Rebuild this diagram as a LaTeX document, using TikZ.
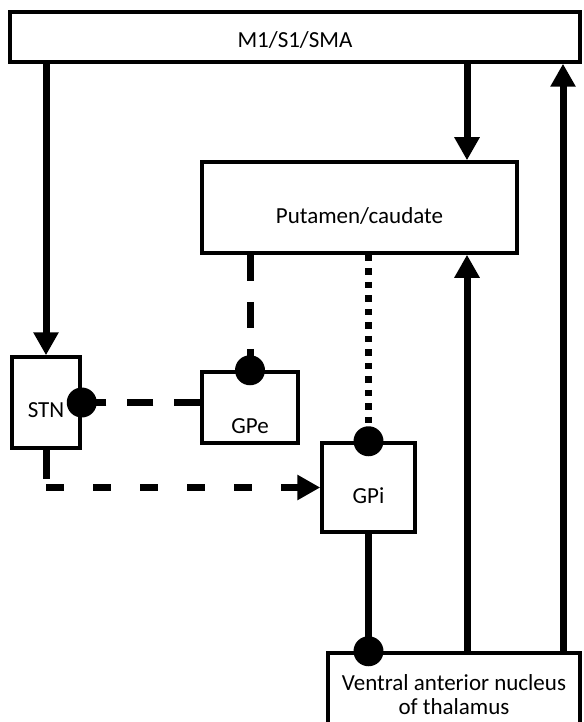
\documentclass[tikz,border=0pt]{standalone}
\usepackage{fontspec}
\setmainfont{Carlito}
\usetikzlibrary{arrows.meta,positioning}

\begin{document}
\begin{tikzpicture}[x=1pt, y=-1pt,
    box/.style={rectangle, draw, line width=3.5pt, inner sep=0pt, font=\fontsize{23}{24}\selectfont},
    arrow/.style={-{Triangle[length=23pt, width=24pt]}, line width=7pt},
    link/.style={line width=7pt},
    dashlink/.style={line width=7pt, dash pattern=on 26pt off 21pt},
    dasharrow/.style={arrow, dash pattern=on 18pt off 29pt},
    dotlink/.style={line width=6.5pt, dash pattern=on 6.5pt off 7pt},
    knob/.style={fill=black}
]
\useasboundingbox (0,0) rectangle (583,722);

% -- boxes --
\node[box, minimum width=570pt, text height=35.4pt, text depth=14.6pt] (m1) at (295,37) {M1/S1/SMA};
\node[box, minimum width=315pt, text height=61pt, text depth=30pt] (put) at (359.5,207.5) {Putamen/caudate};
\node[box, minimum width=68pt, text height=60pt, text depth=31pt] (stn) at (46,402.5) {STN};
\node[box, minimum width=96pt, text height=61pt, text depth=10pt] (gpe) at (250,407.5) {GPe};
\node[box, minimum width=93pt, text height=60pt, text depth=29pt] (gpi) at (368.5,487.5) {GPi};
\node[box, minimum width=252pt, minimum height=84pt, align=center] (vant) at (454,695) {Ventral anterior nucleus\\of thalamus};

% -- columns of the long vertical connections --
\coordinate (upx) at (467,0);
\coordinate (retx) at (563,0);

% -- excitatory (solid, arrows) --
\draw[arrow] (m1.south -| stn.north) -- (stn.north);
\draw[arrow] (m1.south -| upx) -- (put.north -| upx);
\draw[arrow] (vant.north -| upx) -- (put.south -| upx);
\draw[arrow] (vant.north -| retx) -- (m1.south -| retx);

% -- inhibitory (dots) --
\draw[dashlink] (put.south -| gpe.north) -- (gpe.north);
\fill[knob] (gpe.north) circle (15pt);
\draw[dotlink] (put.south -| gpi.north) -- (gpi.north);
\fill[knob] (gpi.north) circle (15pt);
\draw[dashlink] (gpe.west |- stn.east) -- (stn.east);
\fill[knob] (stn.east) circle (15pt);
\draw[link] (gpi.south) -- (vant.north -| gpi.south);
\fill[knob] (vant.north -| gpi.south) circle (15pt);

% STN -> GPi
\draw[link] (stn.south) -- ++(0,29);
\draw[dasharrow] (stn.south |- gpi.west) -- (gpi.west);

\end{tikzpicture}
\end{document}
